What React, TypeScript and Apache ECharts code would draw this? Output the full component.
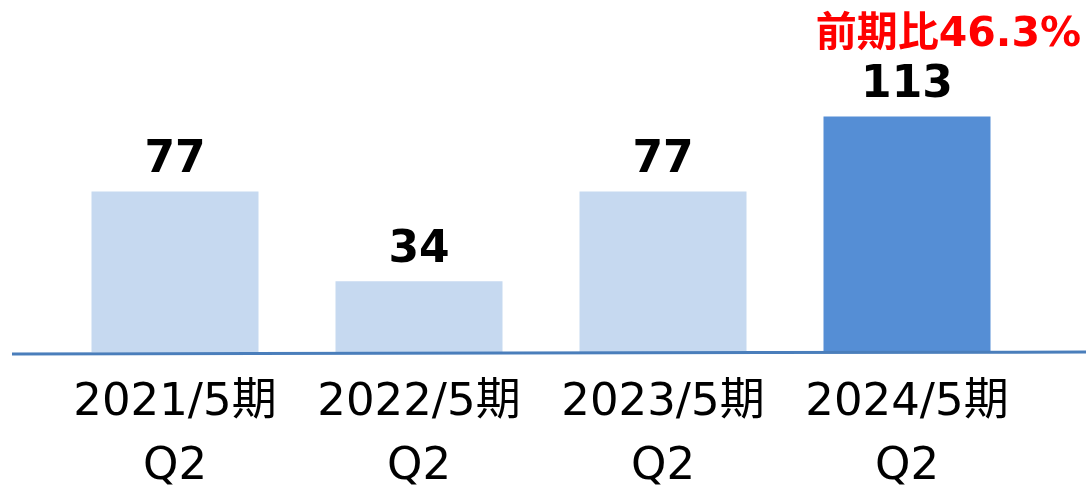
import React, { useEffect, useRef } from "react";
import * as echarts from "echarts";

const categories = ["2021/5期\nQ2", "2022/5期\nQ2", "2023/5期\nQ2", "2024/5期\nQ2"];
const values = [77, 34, 77, 113];
const highlightIndex = 3;
const noteText = "前期比46.3%";

export default function App() {
  const ref = useRef<HTMLDivElement>(null);
  useEffect(() => {
    if (!ref.current) return;
    const chart = echarts.init(ref.current, null, { renderer: "svg" });
    const font = "'DejaVu Sans', Verdana, 'Noto Sans CJK JP', sans-serif";
    chart.setOption({
      animation: false,
      grid: { left: 53, width: 976, top: 102, height: 250, outerBoundsMode: "none", containLabel: false },
      xAxis: {
        type: "category",
        data: categories,
        axisLine: { show: false },
        axisTick: { show: false },
        axisLabel: {
          color: "#000",
          fontSize: 45,
          fontFamily: font,
          lineHeight: 64,
          margin: 15,
          interval: 0,
        },
      },
      yAxis: {
        type: "value",
        min: 0,
        max: 120,
        show: false,
        splitLine: { show: false },
      },
      series: [
        {
          type: "bar",
          barWidth: 167,
          data: values.map((v, i) => ({
            value: v,
            itemStyle: { color: i === highlightIndex ? "#558ED5" : "#C6D9F0" },
          })),
          label: {
            show: true,
            position: "top",
            distance: 13,
            color: "#000",
            fontSize: 44,
            fontWeight: "bold",
            fontFamily: font,
          },
        },
      ],
      graphic: [
        {
          type: "line",
          shape: { x1: 12, y1: 354, x2: 1086, y2: 352 },
          style: { stroke: "#4A7EBB", lineWidth: 3 },
          z: 10,
        },
        {
          type: "text",
          right: 5,
          top: 11,
          style: {
            text: noteText,
            fill: "#FF0000",
            fontSize: 41,
            fontWeight: "bold",
            fontFamily: font,
          },
        },
      ],
    });
    return () => chart.dispose();
  }, []);
  return (
    <div
      ref={ref}
      style={{ position: "fixed", left: 0, top: 0, width: 1086, height: 488 }}
    />
  );
}
